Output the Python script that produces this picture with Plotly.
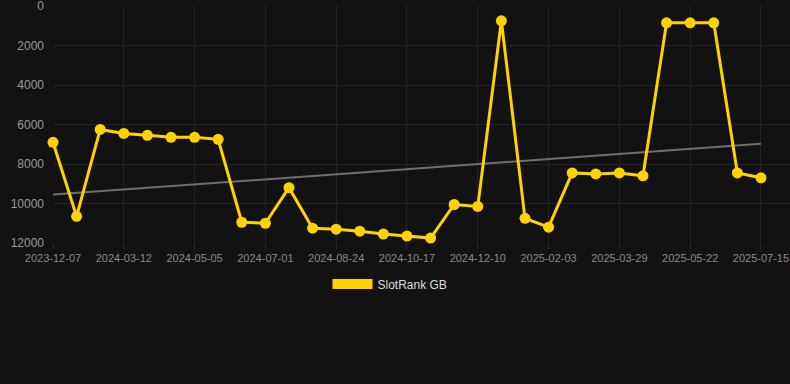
import plotly.graph_objects as go

dates = ["2023-12-07", "2023-12-29", "2024-02-19", "2024-03-12", "2024-03-30", "2024-04-17",
         "2024-05-05", "2024-05-24", "2024-06-12", "2024-07-01", "2024-07-19", "2024-08-06",
         "2024-08-24", "2024-09-11", "2024-09-29", "2024-10-17", "2024-11-04", "2024-11-22",
         "2024-12-10", "2024-12-28", "2025-01-16", "2025-02-03", "2025-02-21", "2025-03-11",
         "2025-03-29", "2025-04-16", "2025-05-04", "2025-05-22", "2025-06-09", "2025-06-27",
         "2025-07-15"]
rank = [6900, 10650, 6250, 6450, 6550, 6650, 6650, 6750, 10950, 11000, 9200, 11250,
        11300, 11400, 11550, 11650, 11750, 10050, 10150, 750, 10750, 11200, 8450, 8500,
        8450, 8600, 850, 850, 850, 8450, 8700]
trend_dates = [dates[0], dates[-1]]
trend_vals = [9550, 6980]
x_ticks = dates[::3]
y_ticks = [0, 2000, 4000, 6000, 8000, 10000, 12000]

GOLD = "#FFD200"
BG = "#121212"

fig = go.Figure()
fig.add_trace(go.Scatter(
    x=trend_dates, y=trend_vals, mode="lines",
    line=dict(color="#707070", width=2),
    showlegend=False, hoverinfo="skip"))
fig.add_trace(go.Scatter(
    x=dates, y=rank, mode="lines+markers",
    line=dict(color=GOLD, width=3),
    marker=dict(color=GOLD, size=11),
    cliponaxis=False,
    showlegend=False, name="SlotRank GB"))
fig.add_trace(go.Scatter(
    x=[None], y=[None], mode="lines",
    line=dict(color=GOLD, width=12),
    name="SlotRank GB", showlegend=True))

fig.update_layout(
    width=790, height=384,
    paper_bgcolor=BG, plot_bgcolor=BG,
    margin=dict(l=53, r=0, t=6, b=141, autoexpand=False),
    font=dict(family="Liberation Sans, Arial, sans-serif", color="#999999", size=11),
    xaxis=dict(
        type="category", categoryorder="array", categoryarray=dates,
        range=[0, 31.23], automargin=False,
        tickmode="array", tickvals=x_ticks, ticktext=x_ticks,
        showgrid=True, gridcolor="#232323", gridwidth=1,
        ticks="outside", ticklen=5, tickcolor="#2a2a2a",
        showline=False, zeroline=False,
        tickfont=dict(size=11, color="#8a8a8a"),
    ),
    yaxis=dict(
        range=[12000, 0], automargin=False,
        tickmode="array", tickvals=y_ticks, tickformat="d",
        showgrid=True, gridcolor="#232323", gridwidth=1,
        zeroline=False, showline=False,
        tickfont=dict(size=12, color="#9a9a9a"),
        ticks="", ticklabeloverflow="allow", ticklabelstandoff=8,
    ),
    legend=dict(
        orientation="h", xref="container", yref="container",
        x=390 / 790, xanchor="center", y=1 - 284 / 384, yanchor="middle",
        font=dict(size=12, color="#dddddd"),
        bgcolor="rgba(0,0,0,0)", itemwidth=40,
    ),
)

fig.write_html(
    "out.html",
    config={"displayModeBar": False},
    post_script="document.body.style.margin='0';document.body.style.background='#121212';",
)
